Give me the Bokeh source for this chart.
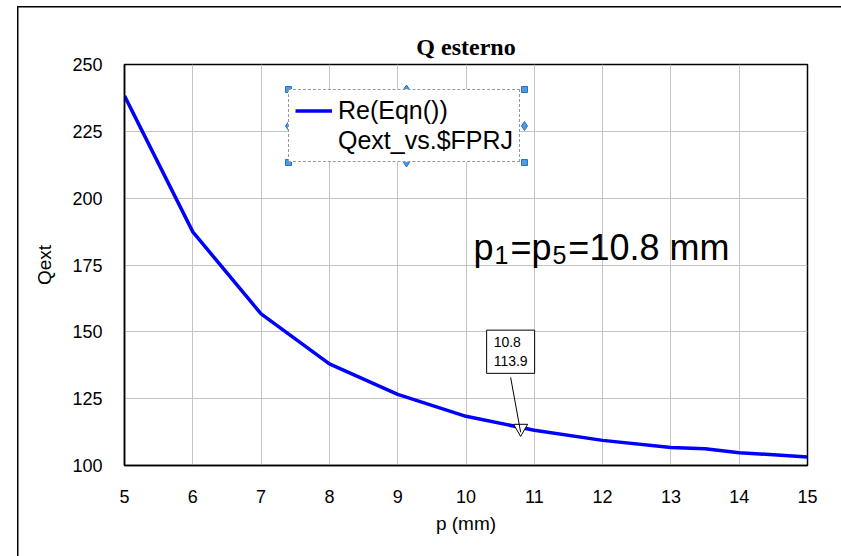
from bokeh.plotting import figure
from bokeh.models import (Range1d, Legend, LegendItem, Label,
                          FixedTicker, ColumnDataSource, InlineStyleSheet)
from bokeh.embed import file_html
from bokeh.resources import INLINE

# ---- data ----
p_mm = [5, 6, 7, 8, 9, 10, 11, 12, 13, 13.5, 14, 15]
q_ext = [238.3, 187.4, 156.7, 138.0, 126.6, 118.4, 113.2, 109.4, 106.7, 106.3, 104.8, 103.2]
marker_x = [10.8]
marker_y = [113.9]
x_ticks = [5, 6, 7, 8, 9, 10, 11, 12, 13, 14, 15]
y_ticks = [100, 125, 150, 175, 200, 225, 250]
title_text = "Q esterno"
legend_lines = ["Re(Eqn())", "Qext_vs.$FPRJ"]
# note "p1=p5=10.8 mm" split into normal / subscript pieces
note_parts = [("p", False), ("1", True), ("=p", False), ("5", True), ("=10.8 mm", False)]

FONT = "Liberation Sans"
FW, FH = 683, 401
X0, X1 = 5, 15
Y0, Y1 = 100, 250

# outer chart-area frame: only its left and top edges fall inside the window
outer_css = InlineStyleSheet(css=""":host {
  background-color: #ffffff;
  background-image: linear-gradient(#000,#000), linear-gradient(#000,#000);
  background-position: 17px 6px, 17px 6px;
  background-size: 1.5px 550px, 824px 1.5px;
  background-repeat: no-repeat, no-repeat;
}""")

p = figure(width=841, height=556, frame_width=FW, frame_height=FH,
           min_border_left=124, min_border_right=34, min_border_top=64,
           min_border_bottom=91,
           x_range=Range1d(X0, X1), y_range=Range1d(Y0, Y1),
           output_backend="svg", toolbar_location=None,
           background_fill_color="white", border_fill_color=None,
           stylesheets=[outer_css])

p.title.text = title_text
p.title.align = "center"
p.title.text_font = "Liberation Serif"
p.title.text_font_style = "bold"
p.title.text_font_size = "24px"
p.title.text_color = "black"
p.title.standoff = 10

p.outline_line_color = "black"
p.outline_line_width = 1.5

for ax in (p.xaxis[0], p.yaxis[0]):
    ax.major_label_text_font = FONT
    ax.major_label_text_font_size = "18px"
    ax.major_label_text_color = "black"
    ax.axis_label_text_font = FONT
    ax.axis_label_text_font_style = "normal"
    ax.axis_label_text_font_size = "19px"
    ax.axis_label_text_color = "black"
    ax.major_tick_out = 0
    ax.major_tick_in = 0
    ax.minor_tick_out = 0
    ax.minor_tick_in = 0
    ax.axis_line_color = "black"
    ax.axis_line_width = 1.5

p.xaxis.ticker = FixedTicker(ticks=x_ticks)
p.yaxis.ticker = FixedTicker(ticks=y_ticks)
p.xaxis.axis_label = "p (mm)"
p.yaxis.axis_label = "Qext"
p.xaxis.major_label_standoff = 24
p.xaxis.axis_label_standoff = 7
p.yaxis.major_label_standoff = 22
p.yaxis.axis_label_standoff = 14

p.xgrid.grid_line_color = "#c4c4c4"
p.ygrid.grid_line_color = "#c4c4c4"
p.xgrid.grid_line_width = 1
p.ygrid.grid_line_width = 1

src = ColumnDataSource(dict(x=p_mm, y=q_ext))
line = p.line("x", "y", source=src, line_color="#0000ff", line_width=3.5)
dummy = p.line(x=[], y=[], line_alpha=0)

# data marker
p.scatter(marker_x, marker_y, marker="inverted_triangle", size=14,
          fill_color="white", line_color="black", line_width=1)

# pixel -> data conversion for annotation offsets
px_x = FW / (X1 - X0)
px_y = FH / (Y1 - Y0)

# leader line from label box to marker
p.segment(x0=[marker_x[0] - 10 / px_x], y0=[marker_y[0] + 51 / px_y],
          x1=[marker_x[0]], y1=[marker_y[0] - 4 / px_y],
          line_color="black", line_width=1)

lbl_txt = "%s\n%s" % (marker_x[0], marker_y[0])
pad = dict(left=7, right=7, top=4, bottom=4)
shadow = Label(x=marker_x[0], y=marker_y[0], x_offset=-34 + 4, y_offset=55 - 4,
               text=lbl_txt, text_font=FONT, text_font_size="14px",
               text_alpha=0, background_fill_color="#858585",
               border_line_color=None, padding=pad)
box = Label(x=marker_x[0], y=marker_y[0], x_offset=-34, y_offset=55,
            text=lbl_txt, text_font=FONT, text_font_size="14px",
            text_color="black", background_fill_color="white",
            border_line_color="black", border_line_width=1, padding=pad)
p.add_layout(shadow)
p.add_layout(box)

# note text with real subscripts
MAIN_PX, SUB_PX = 36, 25
ADV = {"p": 0.556, "1": 0.556, "5": 0.556, "=": 0.584, "0": 0.556, ".": 0.278,
       "8": 0.556, " ": 0.278, "m": 0.833}
nx = 349
for txt, sub in note_parts:
    size = SUB_PX if sub else MAIN_PX
    p.add_layout(Label(x=nx, y=211 if sub else 218, x_units="screen", y_units="screen",
                       text=txt, text_font=FONT, text_font_size="%dpx" % size,
                       text_baseline="alphabetic", text_color="black"))
    nx += sum(ADV[c] for c in txt) * size + (2 if sub else 1)

# legend
LG_L, LG_B, LG_W, LG_H = 164, 303, 236, 73
legend = Legend(items=[LegendItem(label=legend_lines[0], renderers=[line]),
                       LegendItem(label=legend_lines[1], renderers=[dummy])],
                location=(LG_L, LG_B), orientation="vertical")
legend.label_text_font = FONT
legend.label_text_font_size = "25px"
legend.label_text_color = "black"
legend.glyph_width = 37
legend.glyph_height = 27
legend.label_height = 27
legend.label_standoff = 6
legend.padding = 6
legend.spacing = 1
legend.margin = 0
legend.border_line_color = "#333333"
legend.border_line_dash = "5 3"
legend.border_line_width = 1.5
legend.background_fill_color = "white"
legend.background_fill_alpha = 1
p.add_layout(legend, "center")

# selection handles around the legend box
hx = [X0 + (LG_L + f * LG_W) / px_x for f in (0, 1, 0, 1)]
hy = [Y0 + (LG_B + g * LG_H) / px_y for g in (0, 0, 1, 1)]
sq = p.scatter(hx, hy, marker="square", size=6, fill_color="#4a9be8",
               line_color="#2a6fc0", line_width=1)
sq.level = "overlay"
dx = [X0 + (LG_L + f * LG_W) / px_x for f in (0.5, 0.5, 0, 1)]
dy = [Y0 + (LG_B + g * LG_H) / px_y for g in (0, 1, 0.5, 0.5)]
dm = p.scatter(dx, dy, marker="diamond", size=9, fill_color="#4a9be8",
               line_color="#2a6fc0", line_width=1)
dm.level = "overlay"

open("out.html", "w").write(file_html(p, INLINE))
